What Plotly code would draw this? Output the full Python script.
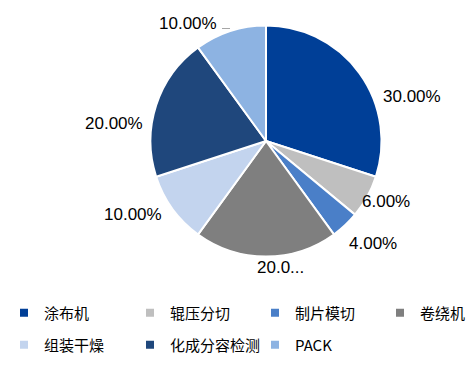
import plotly.graph_objects as go

categories = ["涂布机", "辊压分切", "制片模切", "卷绕机", "组装干燥", "化成分容检测", "PACK"]
values = [30, 6, 4, 20, 10, 20, 10]
label_text = ["30.00%", "6.00%", "4.00%", "20.0...", "10.00%", "20.00%", "10.00%"]
colors = ["#003f97", "#bfbfbf", "#4a7fc8", "#7f7f7f", "#c3d4ee", "#1f477c", "#8db3e2"]

W, H = 472, 365
# label centre positions in pixels (layout only)
label_pos = [(412, 96), (386, 202), (373, 243), (280, 267), (133, 214), (114, 123), (188, 24)]
# legend entry marker centres in pixels (layout only)
legend_pos = [(24, 313), (150, 313), (275, 313), (400, 313), (24, 345), (150, 345), (275, 345)]
SYMBOL_OFFSET = 20

fig = go.Figure()
fig.add_trace(go.Pie(
    labels=categories,
    values=values,
    textinfo="none",
    marker=dict(colors=colors, line=dict(color="#ffffff", width=2)),
    sort=False,
    direction="clockwise",
    rotation=0,
    domain=dict(x=[150.5 / W, 381.5 / W], y=[1 - 256.5 / H, 1 - 25.5 / H]),
    hoverinfo="label+percent",
    showlegend=False,
))

legend_layout = {}
for i, (cat, col) in enumerate(zip(categories, colors)):
    lname = "legend" if i == 0 else f"legend{i + 1}"
    fig.add_trace(go.Scatter(
        x=[None], y=[None], mode="markers", name=cat,
        marker=dict(symbol="square", size=8, color=col),
        legend=lname, showlegend=True,
    ))
    lx, ly = legend_pos[i]
    legend_layout[lname] = dict(
        orientation="h", xanchor="left", yanchor="middle",
        x=(lx - SYMBOL_OFFSET) / W, y=1 - ly / H,
        font=dict(family="Noto Sans CJK SC", size=15, color="#000000"),
        itemwidth=30, bgcolor="rgba(0,0,0,0)", borderwidth=0,
    )

for (px, py), txt in zip(label_pos, label_text):
    fig.add_annotation(
        x=px / W, y=1 - py / H, xref="paper", yref="paper",
        text=txt, showarrow=False, xanchor="center", yanchor="middle",
        font=dict(family="Liberation Sans, Arial", size=17, color="#000000"),
    )

fig.add_shape(type="line", xref="paper", yref="paper",
              x0=222 / W, x1=230 / W, y0=1 - 28.5 / H, y1=1 - 28.5 / H,
              line=dict(color="#a6a6a6", width=1))

fig.update_layout(
    width=W, height=H,
    margin=dict(l=0, r=0, t=0, b=0),
    paper_bgcolor="#ffffff",
    plot_bgcolor="#ffffff",
    xaxis=dict(visible=False),
    yaxis=dict(visible=False),
    **legend_layout,
)

fig.write_html("out.html", config={"displayModeBar": False},
               post_script="document.body.style.margin='0px';")
